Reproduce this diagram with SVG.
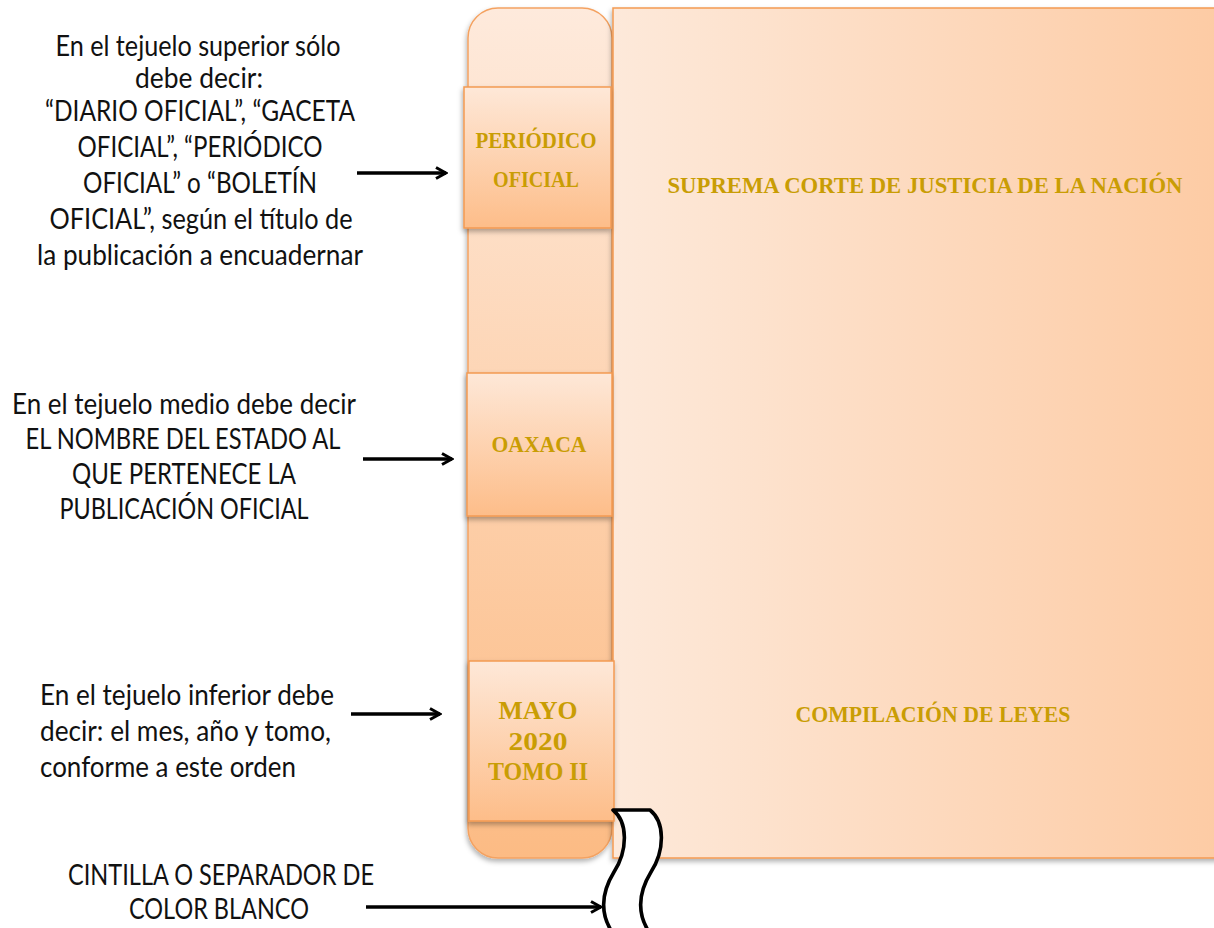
<svg xmlns="http://www.w3.org/2000/svg" width="1214" height="928" viewBox="0 0 1214 928">
<defs>
<linearGradient id="gSpine" x1="0" y1="0" x2="0" y2="1">
<stop offset="0" stop-color="#feeadc"/>
<stop offset="1" stop-color="#fcbb84"/>
</linearGradient>
<linearGradient id="gCover" x1="0" y1="0" x2="1" y2="0">
<stop offset="0" stop-color="#fde9da"/>
<stop offset="1" stop-color="#fdcba4"/>
</linearGradient>
<linearGradient id="gTag" x1="0" y1="0" x2="0" y2="1">
<stop offset="0" stop-color="#fee8d8"/>
<stop offset="1" stop-color="#fdbd89"/>
</linearGradient>
<filter id="sh" x="-20%" y="-20%" width="140%" height="140%">
<feDropShadow dx="-1" dy="3" stdDeviation="2.5" flood-color="#000" flood-opacity="0.3"/>
</filter>
<marker id="ah" viewBox="0 0 14 14" refX="12" refY="7" markerWidth="14" markerHeight="14" markerUnits="userSpaceOnUse" orient="auto">
<path d="M2,1.5 L12,7 L2,12.5" fill="none" stroke="#000" stroke-width="3" stroke-linejoin="miter"/>
</marker>
<style>
.note{font-family:Lato,"Liberation Sans",sans-serif;font-size:28.5px;fill:#111;}
.tag{font-family:"Liberation Serif","DejaVu Serif",serif;font-weight:bold;fill:#c99d04;}
.box{fill:url(#gTag);stroke:#f39a52;stroke-width:1.5;}
.arrow{stroke:#000;stroke-width:3.6;fill:none;marker-end:url(#ah);}
</style>
</defs>

<g id="book">
<rect id="spine" x="468" y="8" width="144" height="850" rx="30" ry="30" fill="url(#gSpine)" stroke="#f4a261" stroke-width="1.5" filter="url(#sh)"/>
<rect id="cover" x="613" y="8" width="610" height="850" fill="url(#gCover)" stroke="#f39a52" stroke-width="1.5" filter="url(#sh)"/>
<text class="tag" x="925" y="193" font-size="23" text-anchor="middle" textLength="515" lengthAdjust="spacingAndGlyphs">SUPREMA CORTE DE JUSTICIA DE LA NACIÓN</text>
<text class="tag" x="933" y="722" font-size="24" text-anchor="middle" textLength="275" lengthAdjust="spacingAndGlyphs">COMPILACIÓN DE LEYES</text>
</g>

<g id="tejuelo-superior">
<rect class="box" x="464" y="87" width="147" height="141" filter="url(#sh)"/>
<text class="tag" x="536" y="148" font-size="23" text-anchor="middle" textLength="121" lengthAdjust="spacingAndGlyphs">PERIÓDICO</text>
<text class="tag" x="536" y="187" font-size="23" text-anchor="middle" textLength="86" lengthAdjust="spacingAndGlyphs">OFICIAL</text>
</g>

<g id="tejuelo-medio">
<rect class="box" x="467" y="373" width="145" height="143" filter="url(#sh)"/>
<text class="tag" x="539" y="452" font-size="23" text-anchor="middle" textLength="95" lengthAdjust="spacingAndGlyphs">OAXACA</text>
</g>

<g id="tejuelo-inferior">
<rect class="box" x="469" y="661" width="145" height="160" filter="url(#sh)"/>
<text class="tag" x="538" y="719" font-size="26" text-anchor="middle" textLength="79" lengthAdjust="spacingAndGlyphs">MAYO</text>
<text class="tag" x="538" y="750" font-size="26" text-anchor="middle" textLength="59" lengthAdjust="spacingAndGlyphs">2020</text>
<text class="tag" x="538" y="780" font-size="26" text-anchor="middle" textLength="100" lengthAdjust="spacingAndGlyphs">TOMO II</text>
</g>

<g id="cintilla">
<path d="M613,810 L650,810 C665,822 665,850 651,872 C640,890 635,910 649,932 L612,932 C598,910 603,890 614,872 C628,850 628,822 613,810 Z" fill="#fff" stroke="#000" stroke-width="3.6" stroke-linejoin="round"/>
</g>

<g id="nota-superior">
<text class="note" x="198" y="56" text-anchor="middle" textLength="285" lengthAdjust="spacingAndGlyphs">En el tejuelo superior sólo</text>
<text class="note" x="199" y="88" text-anchor="middle" textLength="128" lengthAdjust="spacingAndGlyphs">debe decir:</text>
<text class="note" x="200" y="121" text-anchor="middle" textLength="310" lengthAdjust="spacingAndGlyphs">“DIARIO OFICIAL”, “GACETA</text>
<text class="note" x="200" y="157" text-anchor="middle" textLength="245" lengthAdjust="spacingAndGlyphs">OFICIAL”, “PERIÓDICO</text>
<text class="note" x="200" y="193" text-anchor="middle" textLength="234" lengthAdjust="spacingAndGlyphs">OFICIAL” o “BOLETÍN</text>
<text class="note" x="201" y="229" text-anchor="middle" textLength="303" lengthAdjust="spacingAndGlyphs">OFICIAL”, según el título de</text>
<text class="note" x="200" y="265" text-anchor="middle" textLength="326" lengthAdjust="spacingAndGlyphs">la publicación a encuadernar</text>
</g>

<g id="nota-media">
<text class="note" x="184" y="414" text-anchor="middle" textLength="344" lengthAdjust="spacingAndGlyphs">En el tejuelo medio debe decir</text>
<text class="note" x="183" y="449" text-anchor="middle" textLength="315" lengthAdjust="spacingAndGlyphs">EL NOMBRE DEL ESTADO AL</text>
<text class="note" x="184" y="484" text-anchor="middle" textLength="224" lengthAdjust="spacingAndGlyphs">QUE PERTENECE LA</text>
<text class="note" x="184" y="519" text-anchor="middle" textLength="249" lengthAdjust="spacingAndGlyphs">PUBLICACIÓN OFICIAL</text>
</g>

<g id="nota-inferior">
<text class="note" x="40" y="705" textLength="294" lengthAdjust="spacingAndGlyphs">En el tejuelo inferior debe</text>
<text class="note" x="40" y="741" textLength="291" lengthAdjust="spacingAndGlyphs">decir: el mes, año y tomo,</text>
<text class="note" x="40" y="777" textLength="256" lengthAdjust="spacingAndGlyphs">conforme a este orden</text>
</g>

<g id="nota-cintilla">
<text class="note" x="221" y="885" text-anchor="middle" textLength="306" lengthAdjust="spacingAndGlyphs">CINTILLA O SEPARADOR DE</text>
<text class="note" x="219" y="919" text-anchor="middle" textLength="180" lengthAdjust="spacingAndGlyphs">COLOR BLANCO</text>
</g>

<g id="connectors">
<line class="arrow" x1="357" y1="173" x2="446" y2="173"/>
<line class="arrow" x1="363" y1="459" x2="452" y2="459"/>
<line class="arrow" x1="351" y1="714" x2="440" y2="714"/>
<line class="arrow" x1="366" y1="907" x2="601" y2="907"/>
</g>
</svg>
